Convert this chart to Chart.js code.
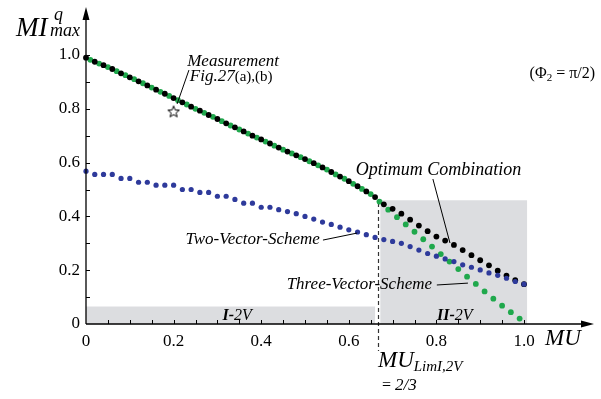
<!DOCTYPE html>
<html>
<head>
<meta charset="utf-8">
<script src="https://cdn.jsdelivr.net/npm/chart.js@4.4.1/dist/chart.umd.min.js"></script>
<style>
    html, body { margin: 0; padding: 0; background: #fff; }
    #wrap { width: 601px; height: 399px; }
</style>
</head>
<body>
<div id="wrap"><canvas id="chart" width="601" height="399"></canvas></div>
<script>
// MU grid (even / odd hundredths)
const muEven = [0, 0.02, 0.04, 0.06, 0.08, 0.10, 0.12, 0.14, 0.16, 0.18, 0.20, 0.22, 0.24, 0.26, 0.28, 0.30, 0.32,
    0.34, 0.36, 0.38, 0.40, 0.42, 0.44, 0.46, 0.48, 0.50, 0.52, 0.54, 0.56, 0.58, 0.60, 0.62, 0.64, 0.66,
    0.68, 0.70, 0.72, 0.74, 0.76, 0.78, 0.80, 0.82, 0.84, 0.86, 0.88, 0.90, 0.92, 0.94, 0.96, 0.98, 1.00];
const muOdd = [0.01, 0.03, 0.05, 0.07, 0.09, 0.11, 0.13, 0.15, 0.17, 0.19, 0.21, 0.23, 0.25, 0.27, 0.29, 0.31, 0.33,
    0.35, 0.37, 0.39, 0.41, 0.43, 0.45, 0.47, 0.49, 0.51, 0.53, 0.55, 0.57, 0.59, 0.61, 0.63, 0.65,
    0.67, 0.69, 0.71, 0.73, 0.75, 0.77, 0.79, 0.81, 0.83, 0.85, 0.87, 0.89, 0.91, 0.93, 0.95, 0.97, 0.99];

// Optimum Combination (black)
const optimum = [0.99, 0.975, 0.962, 0.948, 0.932, 0.917, 0.902, 0.887, 0.871, 0.856, 0.84, 0.824, 0.808, 0.793, 0.777, 0.762, 0.746,
    0.731, 0.716, 0.70, 0.686, 0.671, 0.656, 0.641, 0.627, 0.613, 0.598, 0.582, 0.565, 0.548, 0.531, 0.512, 0.493, 0.472,
    0.445, 0.428, 0.41, 0.388, 0.366, 0.345, 0.325, 0.31, 0.294, 0.275, 0.256, 0.237, 0.218, 0.198, 0.18, 0.163, 0.148];

// Two-Vector-Scheme (blue)
const twoVector = [0.568, 0.556, 0.556, 0.556, 0.541, 0.541, 0.527, 0.527, 0.516, 0.516, 0.516, 0.50, 0.50, 0.489, 0.489, 0.475, 0.475,
    0.463, 0.449, 0.449, 0.434, 0.434, 0.425, 0.418, 0.41, 0.40, 0.39, 0.379, 0.37, 0.36, 0.35, 0.342, 0.332, 0.322,
    0.314, 0.307, 0.30, 0.288, 0.275, 0.262, 0.252, 0.242, 0.232, 0.22, 0.211, 0.201, 0.19, 0.181, 0.17, 0.158, 0.148];

// Three-Vector-Scheme (green), on the odd grid
const threeVector = [0.982, 0.968, 0.955, 0.94, 0.925, 0.91, 0.895, 0.879, 0.863, 0.848, 0.832, 0.816, 0.80, 0.785, 0.77, 0.754, 0.738,
    0.723, 0.708, 0.693, 0.678, 0.663, 0.648, 0.634, 0.62, 0.605, 0.59, 0.574, 0.556, 0.54, 0.521, 0.502, 0.483,
    0.455, 0.425, 0.397, 0.37, 0.343, 0.315, 0.288, 0.26, 0.232, 0.204, 0.176, 0.149, 0.121, 0.094, 0.068, 0.044, 0.02];

// measurement point Fig.27(a),(b)
const measurement = [{ x: 0.2, y: 0.79 }];

// tick labels
const xTickValues = [0, 0.2, 0.4, 0.6, 0.8, 1.0];
const xTickLabels = ['0', '0.2', '0.4', '0.6', '0.8', '1.0'];
const yTickValues = [0, 0.2, 0.4, 0.6, 0.8, 1.0];
const yTickLabels = ['0', '0.2', '0.4', '0.6', '0.8', '1.0'];

// shaded regions [mu0, mu1, v0, v1]
const regionI = [0, 0.66, 0, 0.065];
const regionII = [0.672, 1.007, 0, 0.46];
const muLim = 2 / 3;

const SERIF = '"Liberation Serif", "DejaVu Serif", serif';

function toPoints(xs, ys) {
    return xs.map((x, i) => ({ x: x, y: ys[i] }));
}

// hollow star for the measurement marker
function makeStar() {
    const c = document.createElement('canvas');
    c.width = 14; c.height = 14;
    const g = c.getContext('2d');
    g.beginPath();
    for (let i = 0; i < 10; i++) {
        const r = i % 2 === 0 ? 6 : 2.6;
        const a = -Math.PI / 2 + i * Math.PI / 5;
        const px = 7 + r * Math.cos(a), py = 7.5 + r * Math.sin(a);
        if (i === 0) g.moveTo(px, py); else g.lineTo(px, py);
    }
    g.closePath();
    g.fillStyle = '#fff';
    g.fill();
    g.strokeStyle = '#000';
    g.lineWidth = 1;
    g.stroke();
    return c;
}

// draw text pieces one after another
function richText(ctx, parts, x, y, align) {
    let total = 0;
    parts.forEach(p => { ctx.font = p.f; total += ctx.measureText(p.t).width; });
    let cx = align === 'right' ? x - total : align === 'center' ? x - total / 2 : x;
    ctx.textAlign = 'left';
    ctx.textBaseline = 'alphabetic';
    parts.forEach(p => {
        ctx.font = p.f;
        ctx.fillText(p.t, cx, y + (p.dy || 0));
        cx += ctx.measureText(p.t).width;
    });
}

const decorPlugin = {
    id: 'decor',
    beforeDatasetsDraw(chart) {
        const ctx = chart.ctx;
        const xs = chart.scales.x, ys = chart.scales.y;
        ctx.save();
        ctx.fillStyle = '#dcdde0';
        [regionI, regionII].forEach(r => {
            const x0 = xs.getPixelForValue(r[0]), x1 = xs.getPixelForValue(r[1]);
            const y0 = ys.getPixelForValue(r[2]), y1 = ys.getPixelForValue(r[3]);
            ctx.fillRect(x0, y1, x1 - x0, y0 - y1);
        });
        // MU_LimI,2V marker
        const xl = Math.round(xs.getPixelForValue(muLim)) + 0.5;
        ctx.strokeStyle = '#333';
        ctx.lineWidth = 1.2;
        ctx.setLineDash([4, 3]);
        ctx.beginPath();
        ctx.moveTo(xl, ys.getPixelForValue(0.45));
        ctx.lineTo(xl, ys.getPixelForValue(-0.1));
        ctx.stroke();
        ctx.restore();
    },
    afterDatasetsDraw(chart) {
        const ctx = chart.ctx;
        const xs = chart.scales.x, ys = chart.scales.y;
        const px = v => xs.getPixelForValue(v);
        const py = v => ys.getPixelForValue(v);
        const x0 = px(0), y0 = py(0);
        ctx.save();
        ctx.strokeStyle = '#000';
        ctx.fillStyle = '#000';
        ctx.lineWidth = 1.3;

        // axes with arrows
        ctx.beginPath();
        ctx.moveTo(x0, y0);
        ctx.lineTo(x0, 18);
        ctx.moveTo(x0, y0);
        ctx.lineTo(583, y0);
        ctx.stroke();
        ctx.beginPath();
        ctx.moveTo(x0, 7); ctx.lineTo(x0 - 3.5, 20); ctx.lineTo(x0 + 3.5, 20); ctx.closePath();
        ctx.moveTo(594, y0); ctx.lineTo(581, y0 - 3.5); ctx.lineTo(581, y0 + 3.5); ctx.closePath();
        ctx.fill();

        // inward ticks
        ctx.lineWidth = 1;
        ctx.beginPath();
        for (let i = 1; i <= 20; i++) {
            const x = Math.round(px(i * 0.05)) + 0.5;
            ctx.moveTo(x, y0); ctx.lineTo(x, y0 - 4);
        }
        for (let i = 1; i <= 10; i++) {
            const y = Math.round(py(i * 0.1)) + 0.5;
            ctx.moveTo(x0, y); ctx.lineTo(x0 + 4, y);
        }
        ctx.stroke();

        // leader lines
        const leaders = [
            [0.208, 0.818, 0.235, 0.944],
            [0.792, 0.539, 0.831, 0.301],
            [0.541, 0.312, 0.619, 0.338],
            [0.801, 0.145, 0.872, 0.152]
        ];
        ctx.beginPath();
        leaders.forEach(l => {
            ctx.moveTo(px(l[0]), py(l[1]));
            ctx.lineTo(px(l[2]), py(l[3]));
        });
        ctx.stroke();

        const it = s => 'italic ' + s + 'px ' + SERIF;
        const rm = s => s + 'px ' + SERIF;
        const bi = s => 'bold italic ' + s + 'px ' + SERIF;

        // axis titles
        richText(ctx, [{ t: 'MI', f: it(27) }], 16, 36, 'left');
        richText(ctx, [{ t: 'q', f: it(18) }], 54, 20, 'left');
        richText(ctx, [{ t: 'max', f: it(18) }], 50, 36, 'left');
        richText(ctx, [{ t: 'MU', f: it(23) }], 545, 345, 'left');

        // MU_LimI,2V = 2/3
        const xlim = px(muLim);
        richText(ctx, [{ t: 'MU', f: it(23) }, { t: 'LimI,2V', f: it(15), dy: 4 }], xlim, 367, 'left');
        richText(ctx, [{ t: '= ', f: rm(16) }, { t: '2/3', f: it(17) }], xlim + 4, 390, 'left');

        // curve labels
        richText(ctx, [{ t: 'Measurement', f: it(17) }], px(0.231), 66, 'left');
        richText(ctx, [{ t: 'Fig.27', f: it(17) }, { t: '(a),(b)', f: rm(15) }], px(0.237), 81, 'left');
        richText(ctx, [{ t: 'Optimum Combination', f: it(18) }], px(0.616), py(0.555), 'left');
        richText(ctx, [{ t: 'Two-Vector-Scheme', f: it(17) }], px(0.534), py(0.297), 'right');
        richText(ctx, [{ t: 'Three-Vector-Scheme', f: it(17) }], px(0.79), py(0.13), 'right');

        // regions
        richText(ctx, [{ t: 'I-', f: bi(16) }, { t: '2V', f: it(16) }], px(0.345), 320, 'center');
        richText(ctx, [{ t: 'II-', f: bi(16) }, { t: '2V', f: it(16) }], px(0.842), 320, 'center');

        // parameter note
        richText(ctx, [{ t: '(Φ', f: rm(16) }, { t: '2', f: rm(11), dy: 3 }, { t: ' = π/2)', f: rm(16) }], 595, 78, 'right');
        ctx.restore();
    }
};

const ctx = document.getElementById('chart').getContext('2d');
const dotBase = { showLine: false, clip: false, pointBorderWidth: 0, pointHoverRadius: 3 };

new Chart(ctx, {
    type: 'scatter',
    data: {
        datasets: [
            Object.assign({}, dotBase, {
                label: 'Two-Vector-Scheme',
                data: toPoints(muEven, twoVector),
                pointRadius: 2.6,
                backgroundColor: '#2e3a9b',
                borderColor: '#2e3a9b'
            }),
            Object.assign({}, dotBase, {
                label: 'Optimum Combination',
                data: toPoints(muEven, optimum),
                pointRadius: 2.9,
                backgroundColor: '#000',
                borderColor: '#000'
            }),
            Object.assign({}, dotBase, {
                label: 'Three-Vector-Scheme',
                data: toPoints(muOdd, threeVector),
                pointRadius: 2.9,
                backgroundColor: '#1fa84c',
                borderColor: '#1fa84c'
            }),
            {
                label: 'Measurement',
                data: measurement,
                showLine: false,
                clip: false,
                pointStyle: makeStar(),
                pointRadius: 7
            }
        ]
    },
    options: {
        responsive: false,
        devicePixelRatio: 1,
        animation: false,
        events: [],
        layout: { padding: { left: 0, top: 55, right: 77, bottom: 0 } },
        plugins: {
            legend: { display: false },
            tooltip: { enabled: false },
            title: { display: false }
        },
        scales: {
            x: {
                type: 'linear',
                min: 0,
                max: 1,
                grid: { display: false, drawTicks: false },
                border: { display: false },
                afterBuildTicks: s => { s.ticks = xTickValues.map(v => ({ value: v })); },
                afterFit: s => { s.height = 75; },
                ticks: {
                    autoSkip: false,
                    maxRotation: 0,
                    padding: 7,
                    color: '#000',
                    font: { family: SERIF, size: 17 },
                    callback: v => xTickLabels[xTickValues.indexOf(v)]
                }
            },
            y: {
                type: 'linear',
                min: 0,
                max: 1,
                grid: { display: false, drawTicks: false },
                border: { display: false },
                afterBuildTicks: s => { s.ticks = yTickValues.map(v => ({ value: v })); },
                afterFit: s => { s.width = 86; },
                ticks: {
                    autoSkip: false,
                    padding: 6,
                    color: '#000',
                    font: { family: SERIF, size: 17 },
                    callback: v => yTickLabels[yTickValues.indexOf(v)]
                }
            }
        }
    },
    plugins: [decorPlugin]
});
</script>
</body>
</html>
